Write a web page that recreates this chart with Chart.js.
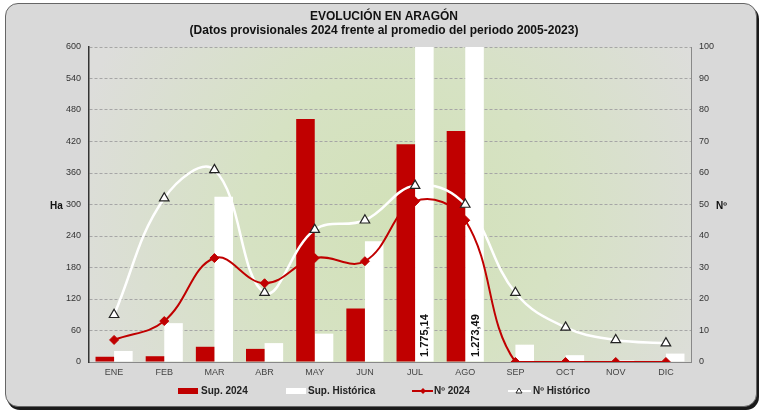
<!DOCTYPE html>
<html>
<head>
<meta charset="utf-8">
<script src="https://cdn.jsdelivr.net/npm/chart.js@4.4.0/dist/chart.umd.min.js"></script>
<style>
  html, body { margin: 0; padding: 0; background: #fff; }
  #wrap { position: relative; width: 761px; height: 412px; }
  #frame {
    position: absolute; left: 5px; top: 3px; width: 750px; height: 402px;
    border: 1px solid #666; border-radius: 13px; background: #d9d9d9;
    box-shadow: 2px 3px 0 #1a1a1a;
  }
  canvas { position: absolute; left: 0; top: 0; }
</style>
</head>
<body>
<div id="wrap">
  <div id="frame"></div>
  <canvas id="myChart" width="761" height="412"></canvas>
</div>
<script>
const months = ["ENE", "FEB", "MAR", "ABR", "MAY", "JUN", "JUL", "AGO", "SEP", "OCT", "NOV", "DIC"];
const sup2024 = [10, 11, 29, 25, 463, 102, 415, 440, 0, 0, 0, 0];
const supHistorica = [21, 74, 315, 36, 54, 230, 1775.14, 1273.49, 33, 13, 3, 16];
const num2024 = [7, 13, 33, 25, 33, 32, 51, 45, 0, 0, 0, 0];
const numHistorico = [15, 52, 61, 22, 42, 45, 56, 50, 22, 11, 7, 6];

const haTicks = [0, 60, 120, 180, 240, 300, 360, 420, 480, 540, 600];
const numTicks = [0, 10, 20, 30, 40, 50, 60, 70, 80, 90, 100];

const FONT = "'Liberation Sans', Arial, sans-serif";
const RED = "#c00000";

// 1775.14 -> "1.775,14"
function fmt(v) {
  const parts = v.toFixed(2).split(".");
  const ent = parts[0].replace(/\B(?=(\d{3})+(?!\d))/g, ".");
  return ent + "," + parts[1];
}

// plot area background
const bgPlugin = {
  id: "bg",
  beforeDraw(chart) {
    const { ctx, chartArea: a } = chart;
    const cx = (a.left + a.right) / 2 + 10;
    const cy = (a.top + a.bottom) / 2 + 20;
    const g = ctx.createRadialGradient(cx, cy, 0, cx, cy, 340);
    g.addColorStop(0, "#d2e1b8");
    g.addColorStop(0.45, "#d6e2c3");
    g.addColorStop(1, "#dddddb");
    ctx.save();
    ctx.fillStyle = g;
    ctx.fillRect(a.left, a.top, a.right - a.left, a.bottom - a.top);
    ctx.restore();
  }
};

// titles, axis names, legend and bar labels
const textPlugin = {
  id: "texts",
  afterDraw(chart) {
    const { ctx, chartArea: a } = chart;
    ctx.save();
    ctx.fillStyle = "#111";
    ctx.textAlign = "center";
    ctx.textBaseline = "middle";
    ctx.font = "bold 12px " + FONT;
    ctx.fillText("EVOLUCIÓN EN ARAGÓN", 384, 17);
    ctx.fillText("(Datos provisionales 2024 frente al promedio del periodo 2005-2023)", 384, 31);

    ctx.font = "bold 10px " + FONT;
    ctx.textAlign = "left";
    ctx.fillText("Ha", 50, 206);
    ctx.fillText("Nº", 716, 206);

    // vertical labels on clipped bars
    const meta = chart.getDatasetMeta(1);
    ctx.font = "bold 11px " + FONT;
    ctx.fillStyle = "#111";
    [6, 7].forEach((i) => {
      const bar = meta.data[i];
      ctx.save();
      ctx.translate(bar.x + 1, a.bottom - 5);
      ctx.rotate(-Math.PI / 2);
      ctx.textAlign = "left";
      ctx.textBaseline = "middle";
      ctx.fillText(fmt(supHistorica[i]), 0, 0);
      ctx.restore();
    });

    // legend
    const ly = 391;
    ctx.font = "bold 10px " + FONT;
    ctx.textBaseline = "middle";
    ctx.textAlign = "left";
    ctx.fillStyle = RED;
    ctx.fillRect(178, ly - 3, 20, 6);
    ctx.fillStyle = "#fff";
    ctx.fillRect(286, ly - 3, 20, 6);
    ctx.strokeStyle = RED;
    ctx.lineWidth = 2;
    ctx.beginPath(); ctx.moveTo(412, ly); ctx.lineTo(433, ly); ctx.stroke();
    ctx.fillStyle = RED;
    ctx.beginPath();
    ctx.moveTo(423, ly - 3); ctx.lineTo(426, ly); ctx.lineTo(423, ly + 3); ctx.lineTo(420, ly);
    ctx.closePath(); ctx.fill();
    ctx.strokeStyle = "#fff";
    ctx.beginPath(); ctx.moveTo(508, ly); ctx.lineTo(531, ly); ctx.stroke();
    ctx.fillStyle = "#fff";
    ctx.strokeStyle = "#222";
    ctx.lineWidth = 1;
    ctx.beginPath();
    ctx.moveTo(519, ly - 3); ctx.lineTo(522, ly + 2); ctx.lineTo(516, ly + 2);
    ctx.closePath(); ctx.fill(); ctx.stroke();

    ctx.fillStyle = "#222";
    ctx.fillText("Sup. 2024", 201, ly);
    ctx.fillText("Sup. Histórica", 308, ly);
    ctx.fillText("Nº 2024", 434, ly);
    ctx.fillText("Nº Histórico", 533, ly);
    ctx.restore();
  }
};

const ctx = document.getElementById("myChart").getContext("2d");
const myChart = new Chart(ctx, {
  type: "bar",
  data: {
    labels: months,
    datasets: [
      {
        label: "Sup. 2024",
        data: sup2024,
        backgroundColor: RED,
        yAxisID: "y",
        order: 2,
        clip: 0,
        categoryPercentage: 0.74,
        barPercentage: 1.0,
      },
      {
        label: "Sup. Histórica",
        data: supHistorica,
        backgroundColor: "#ffffff",
        yAxisID: "y",
        order: 2,
        clip: 0,
        categoryPercentage: 0.74,
        barPercentage: 1.0,
      },
      {
        type: "line",
        label: "Nº 2024",
        data: num2024,
        yAxisID: "y1",
        borderColor: RED,
        borderWidth: 2,
        tension: 0.4,
        pointStyle: "rectRot",
        pointRadius: 4.5,
        pointBackgroundColor: RED,
        pointBorderColor: RED,
        pointBorderWidth: 1,
        order: 0,
      },
      {
        type: "line",
        label: "Nº Histórico",
        data: numHistorico,
        yAxisID: "y1",
        borderColor: "#ffffff",
        borderWidth: 2.5,
        tension: 0.4,
        pointStyle: "triangle",
        pointRadius: 5.5,
        pointBackgroundColor: "#ffffff",
        pointBorderColor: "#222",
        pointBorderWidth: 1.2,
        order: 1,
      },
    ],
  },
  options: {
    responsive: false,
    animation: false,
    devicePixelRatio: 1,
    layout: { padding: { top: 47, bottom: 30, left: 0, right: 0 } },
    plugins: {
      legend: { display: false },
      title: { display: false },
      tooltip: { enabled: false },
    },
    scales: {
      x: {
        grid: { display: false, drawTicks: false },
        border: { color: "#888", width: 1 },
        ticks: { color: "#444", font: { family: FONT, size: 9 }, padding: 5 },
        afterFit: (s) => { s.height = 20; },
      },
      y: {
        position: "left",
        min: 0,
        max: 600,
        afterBuildTicks: (s) => { s.ticks = haTicks.map((v) => ({ value: v })); },
        grid: { color: "#a6a6a6", lineWidth: 1, drawTicks: false },
        border: { color: "#333", width: 1.5, dash: [3, 2] },
        ticks: { color: "#333", font: { family: FONT, size: 9 }, padding: 8 },
        afterFit: (s) => { s.width = 89; },
      },
      y1: {
        position: "right",
        min: 0,
        max: 100,
        afterBuildTicks: (s) => { s.ticks = numTicks.map((v) => ({ value: v })); },
        grid: { display: false, drawTicks: false },
        border: { color: "#888", width: 1 },
        ticks: { color: "#333", font: { family: FONT, size: 9 }, padding: 8 },
        afterFit: (s) => { s.width = 70; },
      },
    },
  },
  plugins: [bgPlugin, textPlugin],
});
</script>
</body>
</html>
